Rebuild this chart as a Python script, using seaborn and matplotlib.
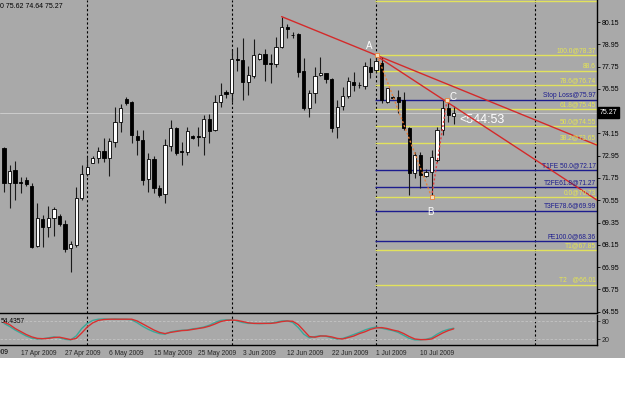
import numpy as np
import pandas as pd
import matplotlib
matplotlib.use("Agg")
import matplotlib.pyplot as plt
import seaborn as sns

# ---------------- data ----------------
bar_index = list(range(82))
opens = [73.37, 71.48, 72.18, 71.52, 71.64, 71.32, 68.09, 69.54, 69.13, 69.58,
         69.70, 69.26, 67.96, 68.14, 70.66, 71.97, 72.57, 72.81, 73.20, 72.84,
         73.67, 74.75, 76.00, 75.83, 74.01, 73.80, 71.68, 72.77, 71.21, 70.89,
         73.47, 74.43, 73.22, 73.15, 74.03, 73.99, 73.97, 74.92, 74.31, 75.82,
         76.37, 76.31, 78.18, 78.10, 76.94, 77.24, 78.16, 78.41, 77.93, 77.89,
         78.79, 79.90, 79.47, 79.49, 77.51, 75.50, 76.34, 77.28, 77.39, 77.06,
         74.48, 75.63, 76.17, 76.94, 76.76, 76.70, 77.74, 77.57, 77.93, 75.86,
         76.13, 76.13, 75.95, 74.43, 72.00, 72.99, 71.88, 72.09, 72.72, 74.34,
         75.50, 75.10]
highs = [73.42, 72.45, 72.68, 71.82, 71.79, 71.46, 70.40, 69.76, 70.24, 70.21,
         69.81, 69.49, 68.36, 71.28, 72.45, 72.90, 72.93, 73.44, 73.89, 73.89,
         75.59, 75.72, 76.10, 75.90, 74.34, 74.34, 73.10, 72.93, 71.37, 73.83,
         74.87, 74.50, 73.69, 74.48, 74.07, 74.48, 75.12, 75.20, 76.22, 76.85,
         76.49, 78.62, 78.82, 79.29, 77.78, 79.24, 78.50, 78.72, 78.45, 79.34,
         80.44, 80.03, 79.63, 79.57, 78.21, 76.49, 77.74, 78.28, 77.43, 77.12,
         75.95, 76.67, 77.17, 77.44, 76.94, 78.01, 78.20, 78.37, 78.28, 76.60,
         76.17, 76.49, 76.40, 74.51, 73.17, 73.17, 72.23, 73.26, 74.51, 75.95,
         75.95, 75.62]
lows = [71.00, 70.13, 70.57, 70.96, 71.32, 67.96, 68.05, 68.05, 68.59, 68.63,
        69.17, 67.78, 66.71, 68.05, 70.57, 71.86, 72.54, 72.54, 72.63, 71.86,
        73.44, 74.24, 75.68, 73.62, 72.99, 71.37, 71.01, 70.93, 70.74, 70.39,
        73.20, 72.99, 72.45, 72.99, 73.85, 73.47, 73.01, 73.66, 74.28, 75.59,
        76.06, 75.82, 77.49, 75.95, 76.22, 77.16, 78.10, 77.00, 76.85, 77.74,
        78.73, 79.27, 79.27, 77.20, 75.41, 75.05, 75.77, 77.24, 76.85, 74.24,
        73.89, 75.41, 76.04, 76.45, 76.58, 76.53, 77.12, 77.47, 75.79, 75.77,
        75.99, 75.23, 74.33, 70.84, 71.73, 71.21, 71.80, 70.73, 72.61, 74.07,
        74.79, 74.64]
closes = [71.48, 72.13, 71.50, 71.50, 71.41, 68.05, 69.60, 69.13, 69.61, 70.06,
          69.26, 67.91, 68.18, 70.69, 71.97, 72.33, 72.81, 73.20, 72.84, 73.74,
          74.78, 75.54, 75.80, 74.07, 73.80, 71.64, 72.77, 71.23, 70.84, 73.53,
          74.43, 73.10, 73.15, 74.26, 73.93, 73.96, 74.92, 74.29, 75.84, 76.22,
          76.30, 78.14, 78.10, 76.94, 77.30, 78.37, 78.41, 77.89, 77.87, 78.79,
          79.90, 79.77, 79.44, 77.47, 75.50, 76.34, 77.24, 77.42, 77.08, 74.43,
          75.59, 76.17, 76.99, 76.76, 76.74, 77.78, 77.47, 78.07, 75.95, 76.58,
          76.04, 75.86, 74.43, 72.00, 72.99, 71.91, 72.07, 72.90, 74.34, 75.50,
          75.14, 75.27]

stoch_main = [72, 62, 50, 40, 30, 23, 20, 21, 24, 27, 24, 19, 17, 30, 55, 72, 82, 86,
              87, 86, 87, 86, 86, 84, 74, 62, 52, 44, 38, 36, 44, 47, 49, 50, 54, 56,
              60, 66, 75, 82, 84, 84, 80, 75, 72, 72, 71, 72, 73, 76, 80, 81, 75, 58,
              36, 24, 28, 31, 29, 24, 20, 22, 28, 35, 42, 50, 56, 60, 56, 52, 48, 42,
              32, 22, 17, 17, 19, 24, 36, 46, 52, 56]
stoch_signal = [76, 68, 55, 45, 35, 27, 22, 21, 22, 25, 26, 22, 18, 22, 40, 60, 74, 82,
                85, 86, 86, 86, 86, 86, 80, 70, 60, 50, 42, 38, 42, 45, 48, 49, 52, 55,
                58, 63, 70, 78, 82, 83, 82, 78, 74, 72, 72, 72, 72, 74, 78, 80, 79, 68,
                48, 28, 26, 30, 30, 27, 22, 20, 25, 30, 38, 44, 52, 57, 58, 55, 50, 46,
                38, 28, 20, 18, 18, 20, 30, 40, 48, 54]

date_ticks = [-5, 3, 11, 19, 27, 35, 43, 51, 59, 67, 75]
date_labels = ["9 Apr 2009", "17 Apr 2009", "27 Apr 2009", "6 May 2009", "15 May 2009",
               "25 May 2009", "3 Jun 2009", "12 Jun 2009", "22 Jun 2009", "1 Jul 2009",
               "10 Jul 2009"]
price_ticks = [80.15, 78.95, 77.75, 76.55, 74.15, 72.95, 71.75, 70.55,
               69.35, 68.15, 66.95, 65.75, 64.55]
separators = [15, 41, 67, 95.7]

fib_prices = [81.29, 78.37, 77.50, 76.74, 75.97, 75.45, 74.55, 73.65, 72.17,
              71.27, 70.73, 69.99, 68.36, 67.85, 66.01]
fib_labels = ["", "100.0@78.37", "88.6", "78.6@76.74", "Stop Loss@75.97", "61.8@75.45",
              "50.0@74.55", "38.2@73.65", "T1FE 50.0@72.17", "T2FE61.8@71.27",
              "0.0@70.73", "T3FE78.6@69.99", "FE100.0@68.36", "T1@67.85", "T2   @66.01"]
fib_kind = ["y", "y", "y", "y", "b", "y", "y", "y", "b", "b", "y", "b", "b", "y", "y"]

trend1_x = [50, 106.8]
trend1_y = [80.44, 73.52]
trend2_x = [67.2, 106.8]
trend2_y = [78.30, 70.56]
zig_x = [67.2, 77, 79.8]
zig_y = [78.37, 70.73, 75.95]
bid_price = 75.27

# ---------------- style ----------------
BG = "#a9a9a9"
YEL = "#e2e25c"
BLU = "#1c1c8e"
RED = "#d42a2a"
sns.set_style("white")
plt.rcParams["font.family"] = ["Liberation Sans", "DejaVu Sans"]
plt.rcParams["font.size"] = 5

fig = plt.figure(figsize=(6.25, 4.13), dpi=100, facecolor=BG)
fig.patches.append(plt.Rectangle((0, 0), 1, 55 / 413, transform=fig.transFigure,
                                 facecolor="white", edgecolor="none", zorder=0))

XMIN, XMAX = -0.72, 106.8
ax = fig.add_axes([0, 1 - 313 / 413, 597 / 625, 313 / 413])
ax2 = fig.add_axes([0, 1 - 345 / 413, 597 / 625, 30 / 413])
for a in (ax, ax2):
    a.set_facecolor(BG)
    for s in ("left", "top"):
        a.spines[s].set_visible(False)
    for s in ("right", "bottom"):
        a.spines[s].set_color("black")
        a.spines[s].set_linewidth(1.0)

df = pd.DataFrame({"i": bar_index, "o": opens, "h": highs, "l": lows, "c": closes})
up = df["c"] >= df["o"]

# separators
for s in separators:
    ax.axvline(s, color="black", lw=0.8, ls=(0, (2, 2)), zorder=1)
    ax2.axvline(s, color="black", lw=0.8, ls=(0, (2, 2)), zorder=1)

# bid line
ax.axhline(bid_price, color="#cdcdcd", lw=0.7, zorder=1)

# fib / target levels
for p, lab, k in zip(fib_prices, fib_labels, fib_kind):
    col = YEL if k == "y" else BLU
    ax.hlines(p, 66.85, XMAX, color=col, lw=1.0, zorder=2)
    if lab:
        ax.text(XMAX - 0.2, p + 0.06, lab, color=col if k == "b" else "#e6e650",
                fontsize=4.8, ha="right", va="bottom", zorder=6)

# candles
ax.vlines(df["i"], df["l"], df["h"], color="#1a1a1a", lw=0.8, zorder=3)
body_bottom = np.minimum(df["o"], df["c"])
body_h = np.abs(df["c"] - df["o"])
ax.bar(df["i"], body_h, bottom=body_bottom, width=0.58,
       color=np.where(up, "white", "black"), edgecolor="black", linewidth=0.6, zorder=4)

# trend lines
sns.lineplot(x=trend1_x, y=trend1_y, ax=ax, color=RED, lw=1.0, zorder=5)
sns.lineplot(x=trend2_x, y=trend2_y, ax=ax, color=RED, lw=1.0, zorder=5)
ax.plot(zig_x[:2], zig_y[:2], color="#e8803a", lw=1.0, ls=(0, (1.5, 1.5)), zorder=5)
ax.plot(zig_x[1:], zig_y[1:], color="#e04040", lw=1.0, ls=(0, (1.5, 1.5)), zorder=5)
ax.scatter(zig_x, zig_y, marker="s", s=8, facecolor="#f0e0c0", edgecolor="#e8803a",
           lw=0.6, zorder=6)
ax.text(65.8, 78.86, "A", color="white", fontsize=7, ha="center", va="center")
ax.text(76.8, 69.92, "B", color="white", fontsize=7, ha="center", va="center")
ax.text(80.9, 76.11, "C", color="white", fontsize=7, ha="center", va="center")
ax.text(82.0, 74.87, "<544:53", color="white", fontsize=9, ha="left", va="center")

# axis ticks
ax.yaxis.tick_right()
ax.set_yticks(price_ticks)
ax.set_yticklabels([f"{t:.2f}" for t in price_ticks])
ax.tick_params(axis="y", length=2, width=0.6, pad=1.5, labelsize=5, colors="black")
ax.set_xticks([])
ax.set_xlabel("")
ax.set_ylabel("")
ax.text(1.004, bid_price, f"{bid_price:.2f}", transform=ax.get_yaxis_transform(),
        color="white", fontsize=5, ha="left", va="center",
        bbox=dict(boxstyle="square,pad=0.25", fc="black", ec="black"))
fig.text(0.0, 1 - 7 / 413, "0 75.62 74.64 75.27", color="black", fontsize=5,
         ha="left", va="center")

# stochastic
for lv in (20, 80):
    ax2.axhline(lv, color="#c4c4c4", lw=0.6, ls=(0, (3, 2)), zorder=1)
st = pd.DataFrame({"i": bar_index, "main": stoch_main, "signal": stoch_signal})
sns.lineplot(data=st, x="i", y="main", ax=ax2, color="#3aa89a", lw=1.0, zorder=3)
sns.lineplot(data=st, x="i", y="signal", ax=ax2, color="#d83030", lw=1.0, zorder=4)
ax2.set_xlabel("")
ax2.set_ylabel("")
ax2.text(0.002, 0.78, "54.4357", transform=ax2.transAxes, fontsize=4.8,
         ha="left", va="center", color="black")
ax2.yaxis.tick_right()
ax2.set_yticks([20, 80])
ax2.set_yticklabels(["20", "80"])
ax2.tick_params(axis="y", length=2, width=0.6, pad=1.5, labelsize=5)
ax2.set_xticks(date_ticks[1:])
ax2.set_xticklabels(date_labels[1:], ha="left")
ax2.tick_params(axis="x", length=2, width=0.6, pad=1.5, labelsize=4.8)
# first (partly hidden) date label left of the visible range
ax2.text(date_ticks[0], -3.5 / 30, date_labels[0], transform=ax2.get_xaxis_transform(),
         fontsize=4.8, ha="left", va="top", color="black", clip_on=False)

# fix limits after all drawing
ax.set_xlim(XMIN, XMAX)
ax2.set_xlim(XMIN, XMAX)
ax.set_ylim(64.48, 81.335)
ax2.set_ylim(0, 100)

fig.savefig("out.png", dpi=100, facecolor=fig.get_facecolor())
